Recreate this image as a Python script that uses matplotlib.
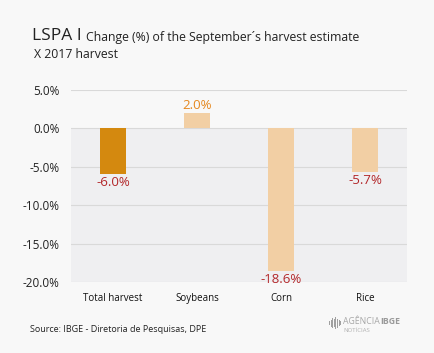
import matplotlib.pyplot as plt
from matplotlib.patches import Rectangle

categories = ["Total harvest", "Soybeans", "Corn", "Rice"]
changes = [-6.0, 2.0, -18.6, -5.7]
y_ticks = [5.0, 0.0, -5.0, -10.0, -15.0, -20.0]

BG = "#f8f8f8"
bar_colors = ["#d4890f", "#f2cfa4", "#f2cfa4", "#f2cfa4"]

plt.rcParams["font.family"] = ["Open Sans", "DejaVu Sans"]

fig = plt.figure(figsize=(4.35, 3.53), dpi=100, facecolor=BG)
W, H = 435, 353
ax = fig.add_axes([71 / W, 1 - 282 / H, 336 / W, (282 - 90) / H])
ax.set_facecolor(BG)

# zona abaixo de zero sombreada
ax.add_patch(Rectangle((0, -20), 4, 20, facecolor="#efeff1", edgecolor="none", zorder=0))

x = [i + 0.5 for i in range(len(categories))]
ax.bar(x, changes, width=0.31, color=bar_colors, zorder=3)

for xi, v in zip(x, changes):
    if v < 0:
        ax.text(xi, v - 0.2, f"{v:.1f}%", ha="center", va="top", color="#b3282b", fontsize=9.5)
    else:
        ax.text(xi, v + 0.2, f"{v:.1f}%", ha="center", va="bottom", color="#e5881f", fontsize=9.5)

ax.set_xlim(0, 4)
ax.set_ylim(-20, 5)
ax.set_yticks(y_ticks)
ax.set_yticklabels([f"{t:.1f}%" for t in y_ticks], fontsize=8.5, color="#222222")
ax.set_xticks(x)
ax.set_xticklabels(categories, fontsize=7, color="#111111")
ax.tick_params(axis="y", length=0, pad=8)
ax.tick_params(axis="x", length=0, pad=8)
ax.grid(axis="y", color="#d9d9d9", linewidth=0.8, zorder=1)
for s in ax.spines.values():
    s.set_visible(False)

fig.text(32 / W, 1 - 36 / H, "LSPA I", fontsize=12.5, color="#222222", va="center")
fig.text(86 / W, 1 - 38 / H, "Change (%) of the September\u00b4s harvest estimate",
         fontsize=8.8, color="#222222", va="center")
fig.text(34 / W, 1 - 54 / H, "X 2017 harvest", fontsize=8.8, color="#222222", va="center")

fig.text(30 / W, 1 - 330 / H, "Source: IBGE - Diretoria de Pesquisas, DPE",
         fontsize=6.5, color="#222222", va="center")

# logo Agência IBGE
for i, hgt in enumerate([4, 7, 10, 8, 12, 9, 6, 4]):
    fig.add_artist(Rectangle(((329 + i * 1.6) / W, (1 - 323 / H) - hgt / 2 / H), 1 / W, hgt / H,
                             transform=fig.transFigure, facecolor="#a0a0a0", edgecolor="none"))
fig.text(343 / W, 1 - 322 / H, "AGÊNCIA", fontsize=6.3, color="#a8a8a8", va="center")
fig.text(380 / W, 1 - 322 / H, "IBGE", fontsize=6.3, color="#9a9a9a", va="center", fontweight="bold")
fig.text(343 / W, 1 - 331 / H, "NOTÍCIAS", fontsize=4.3, color="#b0b0b0", va="center")

fig.savefig("out.png", dpi=100, facecolor=BG)
